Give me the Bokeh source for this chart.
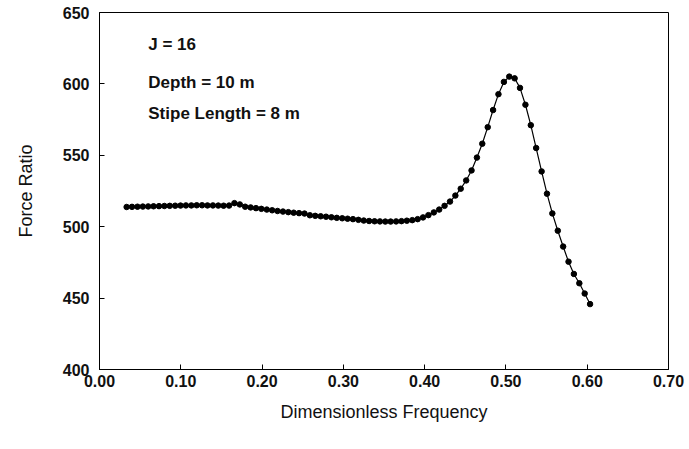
from bokeh.plotting import figure
from bokeh.models import Range1d, FixedTicker, Label, CustomJSTickFormatter
from bokeh.embed import file_html
from bokeh.resources import INLINE

# Dimensionless frequency (x) and force ratio (y)
freq = [0.0334, 0.0400, 0.0467, 0.0533, 0.0599, 0.0665, 0.0732, 0.0798, 0.0864, 0.0931,
        0.0997, 0.1063, 0.1130, 0.1196, 0.1262, 0.1328, 0.1395, 0.1461, 0.1527, 0.1594,
        0.1660, 0.1726, 0.1792, 0.1859, 0.1925, 0.1991, 0.2058, 0.2124, 0.2190, 0.2257,
        0.2323, 0.2389, 0.2455, 0.2522, 0.2588, 0.2654, 0.2721, 0.2787, 0.2853, 0.2919,
        0.2986, 0.3052, 0.3118, 0.3185, 0.3251, 0.3317, 0.3384, 0.3450, 0.3516, 0.3582,
        0.3649, 0.3715, 0.3781, 0.3848, 0.3914, 0.3980, 0.4046, 0.4113, 0.4179, 0.4245,
        0.4312, 0.4378, 0.4444, 0.4511, 0.4577, 0.4643, 0.4709, 0.4776, 0.4842, 0.4908,
        0.4975, 0.5041, 0.5107, 0.5173, 0.5240, 0.5306, 0.5372, 0.5439, 0.5505, 0.5571,
        0.5638, 0.5704, 0.5770, 0.5836, 0.5903, 0.5969, 0.6035]

force_ratio = [513.8, 513.9, 514.0, 514.1, 514.2, 514.3, 514.4, 514.5, 514.6, 514.7,
               514.8, 514.9, 514.9, 515.0, 515.0, 514.9, 514.9, 514.8, 514.7, 514.8,
               516.5, 515.6, 514.0, 513.5, 513.0, 512.5, 512.0, 511.5, 511.0, 510.6,
               510.2, 509.8, 509.5, 509.2, 508.0, 507.6, 507.3, 507.0, 506.6, 506.2,
               505.9, 505.6, 505.3, 504.8, 504.3, 504.0, 503.8, 503.7, 503.6, 503.6,
               503.7, 503.9, 504.2, 504.6, 505.3, 506.5, 508.1, 510.0, 512.0, 514.6,
               517.6, 521.8, 526.6, 532.4, 539.4, 548.4, 558.1, 569.7, 581.7, 592.8,
               601.4, 605.1, 603.9, 597.2, 585.4, 571.1, 555.1, 538.7, 523.1, 509.3,
               497.2, 486.1, 475.5, 466.9, 460.4, 453.2, 445.8]

x_ticks = [0.0, 0.1, 0.2, 0.3, 0.4, 0.5, 0.6, 0.7]
y_ticks = [400, 450, 500, 550, 600, 650]
notes = ["J = 16", "Depth = 10 m", "Stipe Length = 8 m"]

FONT = "Liberation Sans"

p = figure(width=689, height=449, output_backend="svg", toolbar_location=None,
           x_range=Range1d(0.0, 0.7), y_range=Range1d(400, 650),
           min_border_left=99, min_border_right=21, min_border_top=12, min_border_bottom=80)

p.line(freq, force_ratio, line_color="black", line_width=1.2)
p.scatter(freq, force_ratio, size=5.5, fill_color="black", line_color="black")

p.xgrid.visible = False
p.ygrid.visible = False
p.outline_line_color = "black"
p.outline_line_width = 1
p.outline_line_alpha = 1

p.xaxis.ticker = FixedTicker(ticks=x_ticks)
p.yaxis.ticker = FixedTicker(ticks=y_ticks)
p.xaxis.formatter = CustomJSTickFormatter(code="return tick.toFixed(2);")
p.yaxis.formatter = CustomJSTickFormatter(code="return tick.toFixed(0);")

for ax in (p.xaxis, p.yaxis):
    ax.major_tick_in = 5
    ax.major_tick_out = 0
    ax.minor_tick_in = 0
    ax.minor_tick_out = 0
    ax.axis_line_color = "black"
    ax.major_tick_line_color = "black"
    ax.major_label_text_font = FONT
    ax.major_label_text_font_size = "16px"
    ax.major_label_text_font_style = "bold"
    ax.major_label_text_color = "#111111"
    ax.axis_label_text_font = FONT
    ax.axis_label_text_font_size = "18px"
    ax.axis_label_text_font_style = "normal"
    ax.axis_label_text_color = "#111111"

p.xaxis.axis_label = "Dimensionless Frequency"
p.yaxis.axis_label = "Force Ratio"
p.xaxis.major_label_standoff = 5
p.xaxis.axis_label_standoff = 12
p.yaxis.major_label_standoff = 10
p.yaxis.axis_label_standoff = 24

for txt, yy in zip(notes, [627.5, 601.0, 579.5]):
    p.add_layout(Label(x=0.060, y=yy, text=txt, text_font=FONT, text_font_size="17px",
                       text_font_style="bold", text_baseline="middle", text_color="#111111"))

open("out.html", "w").write(file_html(p, INLINE))
